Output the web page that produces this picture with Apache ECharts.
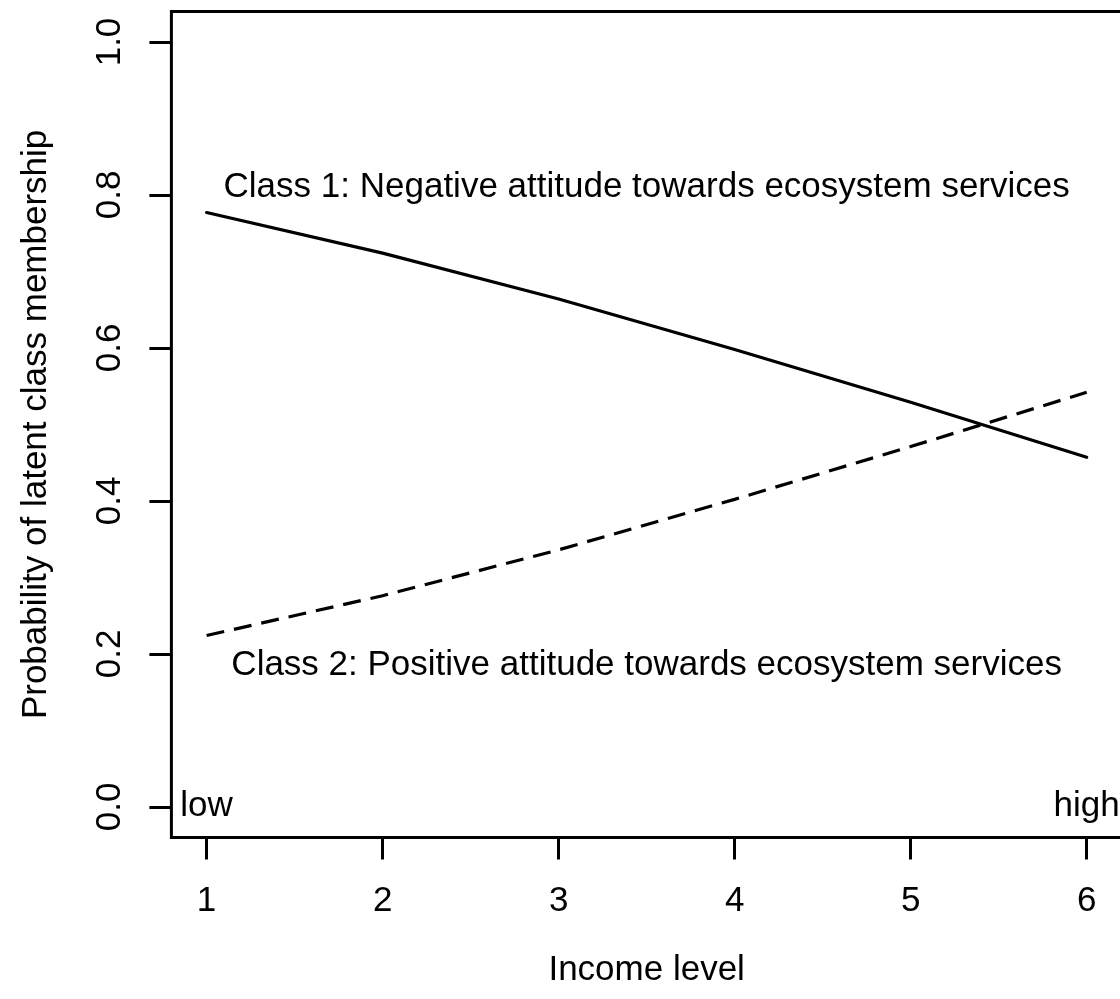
<!DOCTYPE html>
<html>
<head>
<meta charset="utf-8">
<title>Latent class membership by income level</title>
<script src="https://cdn.jsdelivr.net/npm/echarts@6/dist/echarts.min.js"></script>
<style>
  html, body { margin: 0; padding: 0; background: #ffffff; }
  #chart { width: 1120px; height: 999px; }
</style>
</head>
<body>
<div id="chart"></div>
<script>
// Income levels on the x axis
const incomeLevels = [1, 2, 3, 4, 5, 6];
// Predicted probability of membership in each latent class
const class1Negative = [0.777, 0.724, 0.664, 0.598, 0.529, 0.457];
const class2Positive = [0.224, 0.276, 0.336, 0.402, 0.471, 0.542];
// Axis tick values
const xTicks = [1, 2, 3, 4, 5, 6];
const yTicks = [0, 0.2, 0.4, 0.6, 0.8, 1.0];
// In-plot annotations: [x, y, text]
const annotations = [
  [3.5, 0.81, 'Class 1: Negative attitude towards ecosystem services'],
  [3.5, 0.185, 'Class 2: Positive attitude towards ecosystem services'],
  [1, 0, 'low'],
  [6, 0, 'high']
];

const FONT = "'Liberation Sans', Arial, Helvetica, sans-serif";
const FS = 35;

const chart = echarts.init(document.getElementById('chart'), null, { renderer: 'canvas' });

chart.setOption({
  animation: false,
  backgroundColor: '#ffffff',
  textStyle: { fontFamily: FONT, color: '#000' },
  grid: {
    left: 171.4,
    top: 11.4,
    width: 950.5,
    height: 826,
    show: true,
    borderColor: '#000',
    borderWidth: 3,
    containLabel: false,
    outerBoundsMode: 'none'
  },
  xAxis: {
    type: 'value',
    min: 0.8,
    max: 6.2,
    name: 'Income level',
    nameLocation: 'middle',
    nameGap: 115,
    nameTextStyle: { fontFamily: FONT, fontSize: FS, color: '#000' },
    axisLine: { show: false, onZero: false },
    splitLine: { show: false },
    axisTick: {
      show: true,
      customValues: xTicks,
      length: 22,
      inside: false,
      lineStyle: { color: '#000', width: 3 }
    },
    axisLabel: {
      customValues: xTicks,
      margin: 46,
      fontFamily: FONT,
      fontSize: FS,
      color: '#000'
    }
  },
  yAxis: {
    type: 'value',
    min: -0.04,
    max: 1.04,
    name: 'Probability of latent class membership',
    nameLocation: 'middle',
    nameGap: 118,
    nameRotate: 90,
    nameTextStyle: { fontFamily: FONT, fontSize: FS, color: '#000' },
    axisLine: { show: false, onZero: false },
    splitLine: { show: false },
    axisTick: {
      show: true,
      customValues: yTicks,
      length: 22,
      inside: false,
      lineStyle: { color: '#000', width: 3 }
    },
    axisLabel: {
      customValues: yTicks,
      rotate: 90,
      margin: 44,
      fontFamily: FONT,
      fontSize: FS,
      color: '#000',
      formatter: v => v.toFixed(1)
    }
  },
  series: [
    {
      name: 'Class 1',
      type: 'line',
      data: incomeLevels.map((x, i) => [x, class1Negative[i]]),
      symbol: 'none',
      lineStyle: { color: '#000', width: 3.2, type: 'solid', cap: 'round' }
    },
    {
      name: 'Class 2',
      type: 'line',
      data: incomeLevels.map((x, i) => [x, class2Positive[i]]),
      symbol: 'none',
      lineStyle: { color: '#000', width: 3.2, type: [18, 10] }
    },
    {
      name: 'Annotations',
      type: 'scatter',
      symbolSize: 0,
      silent: true,
      itemStyle: { color: '#000', opacity: 1 },
      data: annotations.map(a => ({ value: [a[0], a[1]], name: a[2] })),
      label: {
        show: true,
        position: 'inside',
        formatter: p => p.name,
        fontFamily: FONT,
        fontSize: FS,
        color: '#000',
        opacity: 1,
        textBorderWidth: 0,
        textBorderColor: 'transparent',
        align: 'center',
        verticalAlign: 'middle'
      }
    }
  ]
});
</script>
</body>
</html>
